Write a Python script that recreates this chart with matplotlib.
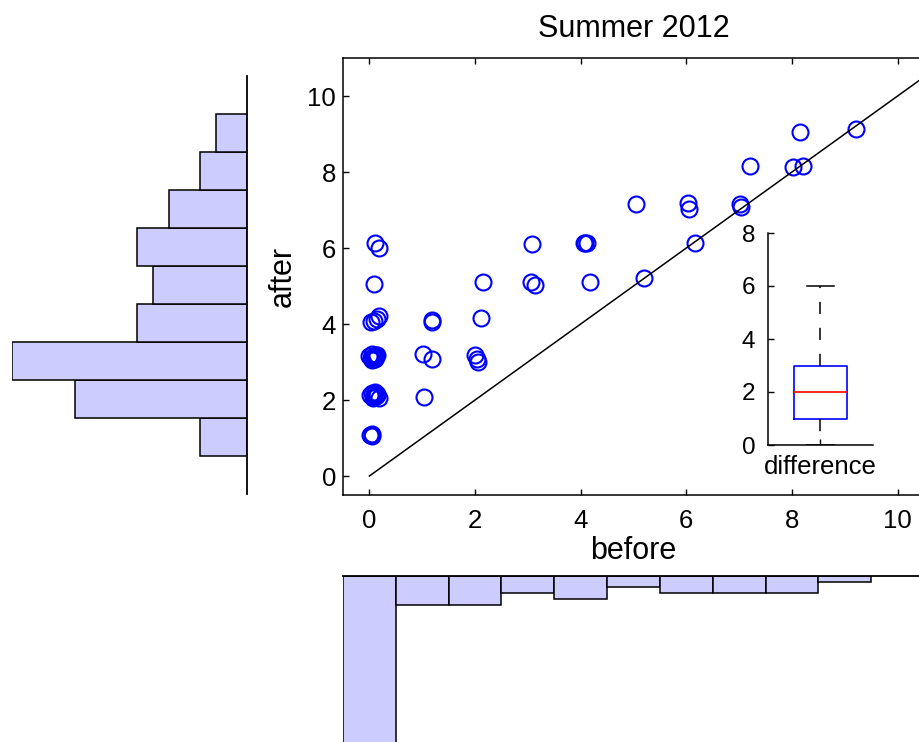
import numpy as np
import matplotlib
matplotlib.use('Agg')
import matplotlib.pyplot as plt

plt.rcParams['font.family'] = ['Liberation Sans', 'DejaVu Sans']

# integer scores (before / after) for each subject
before = [1, 1, 1, 2, 2, 2, 1, 1, 2, 2, 3, 3, 4, 5, 3, 4, 4, 4, 6, 5,
          6, 6, 7, 7, 7, 8, 8, 8, 9,
          0, 0, 0,
          0, 0, 0, 0, 0, 0, 0, 0, 0, 0,
          0, 0, 0, 0, 0, 0, 0, 0, 0, 0,
          0, 0, 0, 0,
          0,
          0, 0]
after = [2, 3, 3, 3, 3, 3, 4, 4, 4, 5, 5, 5, 5, 5, 6, 6, 6, 6, 6, 7,
         7, 7, 7, 7, 8, 8, 8, 9, 9,
         1, 1, 1,
         2, 2, 2, 2, 2, 2, 2, 2, 2, 2,
         3, 3, 3, 3, 3, 3, 3, 3, 3, 3,
         4, 4, 4, 4,
         5,
         6, 6]
# small offsets used when the points were scattered
jitter_x = [.04, .02, .19, .00, .03, .06, .18, .18, .11, .15, .06, .13, .18, .19, .08, .07, .12, .09, .17, .05,
            .03, .05, .01, .03, .21, .02, .21, .16, .22,
            .02, .05, .04,
            .02, .05, .08, .10, .12, .15, .18, .06, .14, .09,
            .00, .03, .05, .07, .09, .11, .13, .15, .04, .12,
            .03, .09, .14, .19,
            .09,
            .11, .18]
jitter_y = [.08, .21, .08, .19, .09, .00, .10, .05, .17, .11, .11, .02, .11, .20, .10, .13, .13, .14, .12, .16,
            .19, .03, .15, .08, .16, .12, .16, .06, .14,
            .08, .10, .05,
            .12, .18, .15, .20, .10, .17, .05, .05, .13, .08,
            .15, .10, .20, .12, .17, .08, .14, .18, .06, .19,
            .05, .09, .14, .20,
            .04,
            .12, .01]

bar_color = '#ccccff'
W, H = 920, 742


def frac(x0, y0, x1, y1):
    # pixel box (top-left origin) -> figure fraction rect
    return [x0 / W, 1 - y1 / H, (x1 - x0) / W, (y1 - y0) / H]


before = np.array(before)
after = np.array(after)
diff = after - before

fig = plt.figure(figsize=(9.2, 7.42), dpi=100)

# main scatter
ax = fig.add_axes(frac(343, 58, 924, 495))
ax.plot(before + np.array(jitter_x), after + np.array(jitter_y), 'o', mfc='none', mec='blue',
        ms=11.5, mew=1.5)
ax.plot([0, 11], [0, 11], 'k-', lw=1.1)
ax.set_xlim(-0.5, 10.5)
ax.set_ylim(-0.5, 11)
ax.set_xticks(range(0, 11, 2))
ax.set_yticks(range(0, 11, 2))
ax.tick_params(direction='in', length=4, width=1, top=True, right=False, labelsize=18.5)
ax.tick_params(axis='x', pad=10)
ax.tick_params(axis='y', pad=5)
for s in ax.spines.values():
    s.set_linewidth(1.1)
ax.set_xlabel('before', fontsize=22, labelpad=2)
ax.set_ylabel('after', fontsize=22, labelpad=7)
ax.set_title('Summer 2012', fontsize=22, pad=15)

# inset boxplot of differences
axi = fig.add_axes(frac(768, 233, 873, 445))
axi.patch.set_alpha(0)
axi.boxplot(diff, widths=0.5,
            boxprops=dict(color='blue', lw=1.2),
            medianprops=dict(color='red', lw=1.2),
            whiskerprops=dict(color='black', lw=1.1, linestyle=(0, (8, 9))),
            capprops=dict(color='black', lw=1.1),
            flierprops=dict(marker='+', mec='red'))
axi.set_xlim(0.5, 1.5)
axi.set_ylim(0, 8)
axi.set_yticks(range(0, 9, 2))
axi.set_xticks([1])
axi.set_xticklabels(['difference'])
axi.spines['top'].set_visible(False)
axi.spines['right'].set_visible(False)
for s in axi.spines.values():
    s.set_linewidth(1.1)
axi.tick_params(direction='in', length=4, width=1, labelsize=17.5)
axi.tick_params(axis='x', labelsize=18.5, pad=7)
axi.tick_params(axis='y', pad=9)

# left histogram of "after"
axl = fig.add_axes(frac(12, 76, 247, 494))
axl.hist(after, bins=np.arange(0.5, 10.5, 1), orientation='horizontal',
         color=bar_color, edgecolor='black', lw=1.1)
axl.set_xlim(15, 0)
axl.set_ylim(-0.5, 10.5)
for side in ['left', 'top', 'bottom']:
    axl.spines[side].set_visible(False)
axl.spines['right'].set_linewidth(1.3)
axl.set_xticks([])
axl.set_yticks([])
axl.patch.set_alpha(0)

# bottom histogram of "before"
axb = fig.add_axes(frac(343, 576, 924, 747))
axb.hist(before, bins=np.arange(-0.5, 10.5, 1), color=bar_color, edgecolor='black', lw=1.1)
axb.set_xlim(-0.5, 10.5)
axb.set_ylim(30, 0)
for side in ['left', 'right', 'bottom']:
    axb.spines[side].set_visible(False)
axb.spines['top'].set_linewidth(1.3)
axb.set_xticks([])
axb.set_yticks([])
axb.patch.set_alpha(0)

fig.savefig('out.png', dpi=100)
